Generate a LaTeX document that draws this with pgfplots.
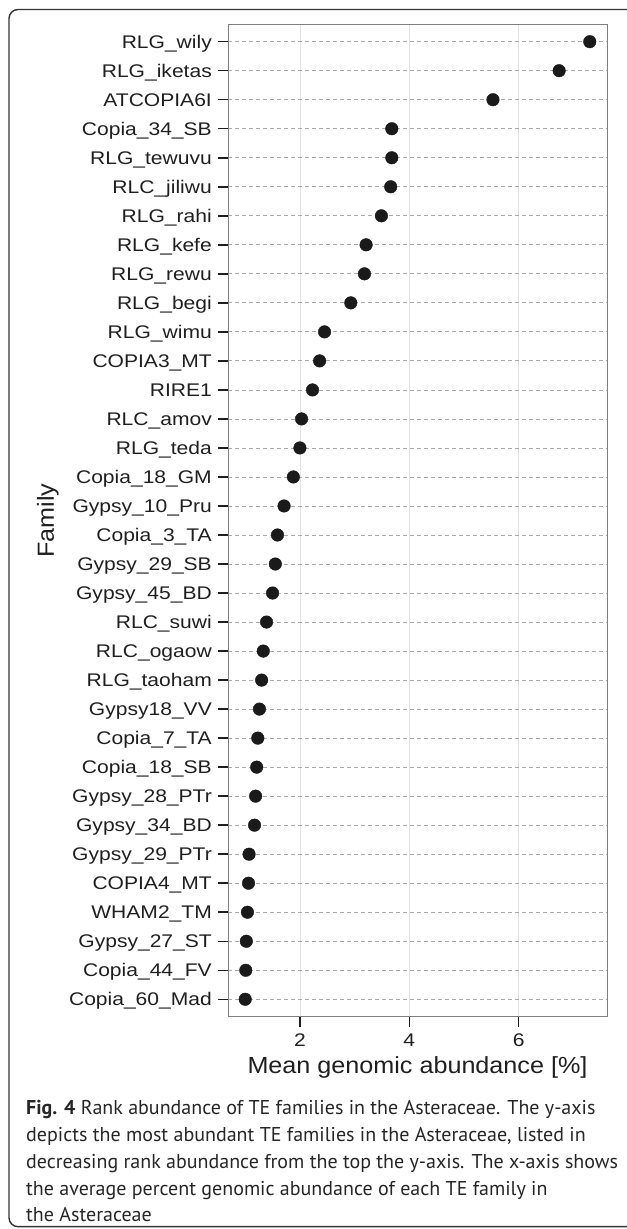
\documentclass[border=0pt]{standalone}
\usepackage{pgfplots}
\pgfplotsset{compat=1.18}
\usepackage{fontspec}
\setmainfont{Liberation Sans}
\newfontfamily\tickfont{Liberation Sans}[FakeStretch=1.15]
\newfontfamily\labelfont{Liberation Sans}[FakeStretch=1.08]
\newfontfamily\capfont{PT Sans}

\definecolor{dotcol}{HTML}{1A1A1A}
\definecolor{panelborder}{HTML}{7F7F7F}
\definecolor{dashgrid}{HTML}{ABABAB}
\definecolor{vgrid}{HTML}{E3E3E3}

% Mean genomic abundance (%) per TE family, y = rank position from the bottom
\pgfplotstableread{
rank  abund
1     1.00
2     1.01
3     1.02
4     1.04
5     1.06
6     1.07
7     1.17
8     1.19
9     1.21
10    1.23
11    1.26
12    1.30
13    1.33
14    1.39
15    1.50
16    1.55
17    1.59
18    1.71
19    1.88
20    2.00
21    2.03
22    2.23
23    2.36
24    2.45
25    2.93
26    3.18
27    3.21
28    3.49
29    3.66
30    3.68
31    3.68
32    5.53
33    6.74
34    7.30
}\abundtable

\begin{document}
\begin{tikzpicture}
\useasboundingbox (0bp,0bp) rectangle (627bp,1229bp);
\draw[rounded corners=9bp, line width=1.4bp, black!80] (9bp,1219.5bp) rectangle (640bp,2.3bp);

\begin{axis}[
  at={(228bp,212.3bp)}, anchor=south west,
  scale only axis, width=379bp, height=992.4bp,
  xmin=0.685, xmax=7.615, ymin=0.4, ymax=34.6,
  xtick={2,4,6},
  ytick={1,...,34},
  yticklabels={Copia\_60\_Mad,Copia\_44\_FV,Gypsy\_27\_ST,WHAM2\_TM,COPIA4\_MT,
    Gypsy\_29\_PTr,Gypsy\_34\_BD,Gypsy\_28\_PTr,Copia\_18\_SB,Copia\_7\_TA,
    Gypsy18\_VV,RLG\_taoham,RLC\_ogaow,RLC\_suwi,Gypsy\_45\_BD,Gypsy\_29\_SB,
    Copia\_3\_TA,Gypsy\_10\_Pru,Copia\_18\_GM,RLG\_teda,RLC\_amov,RIRE1,
    COPIA3\_MT,RLG\_wimu,RLG\_begi,RLG\_rewu,RLG\_kefe,RLG\_rahi,RLC\_jiliwu,
    RLG\_tewuvu,Copia\_34\_SB,ATCOPIA6I,RLG\_iketas,RLG\_wily},
  /pgf/number format/assume math mode=true,
  tick pos=left,
  tick align=outside,
  major tick length=10bp,
  tick style={black!88, line width=1.5bp},
  axis line style={panelborder, line width=1bp},
  xmajorgrids, ymajorgrids,
  x grid style={vgrid, line width=0.8bp},
  y grid style={dashgrid, line width=0.8bp, dash pattern=on 4bp off 3bp},
  ticklabel style={font=\tickfont\fontsize{18.3bp}{22bp}\selectfont, text=black!88},
  yticklabel style={anchor=base east, inner sep=0pt, xshift=-6bp, yshift=-6.5bp},
  xticklabel style={anchor=base, inner sep=0pt, yshift=-20bp},
  xlabel={Mean genomic abundance [\%]},
  ylabel={Family},
  label style={font=\labelfont\fontsize{23.3bp}{26bp}\selectfont, text=black!88},
  xlabel style={at={(axis description cs:0.5,-0.0570)}, anchor=base, inner sep=0pt},
  ylabel style={at={(axis description cs:-0.475,0.5)}, anchor=center, inner sep=0pt},
  clip=false,
]
\addplot[only marks, mark=*, mark size=6.3bp, dotcol, mark options={draw=dotcol, fill=dotcol}]
  table[x=abund, y=rank] {\abundtable};
\end{axis}

\begin{scope}[every node/.style={anchor=base west, inner sep=0pt, text=black!85,
    font=\capfont\fontsize{20bp}{26bp}\selectfont}]
\node at (26bp,114.0bp) {\textbf{Fig. 4} Rank abundance of TE families in the Asteraceae. The y-axis};
\node at (26bp,87.3bp) {depicts the most abundant TE families in the Asteraceae, listed in};
\node at (26bp,60.7bp) {decreasing rank abundance from the top the y-axis. The x-axis shows};
\node at (26bp,34.0bp) {the average percent genomic abundance of each TE family in};
\node at (26bp,7.3bp) {the Asteraceae};
\end{scope}
\end{tikzpicture}
\end{document}
